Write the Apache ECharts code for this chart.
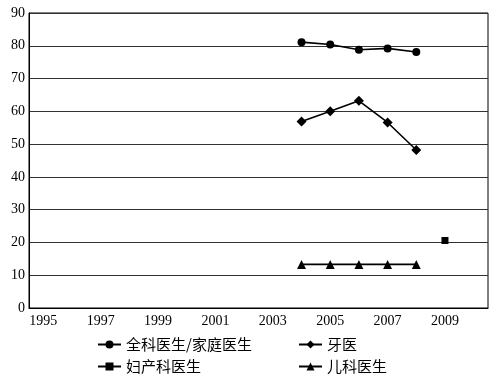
<!DOCTYPE html>
<html>
<head>
<meta charset="utf-8">
<script src="https://cdn.jsdelivr.net/npm/echarts@6/dist/echarts.min.js"></script>
<style>
  html, body { margin: 0; padding: 0; background: #fff; }
  #chart { width: 496px; height: 377px; }
</style>
</head>
<body>
<div id="chart"></div>
<script>
// 年份（类目轴）
const years = ['1995', '1996', '1997', '1998', '1999', '2000', '2001', '2002',
  '2003', '2004', '2005', '2006', '2007', '2008', '2009', '2010'];
// 各系列数值，缺失年份为 null
const generalPractice = [null, null, null, null, null, null, null, null, null, 81.1, 80.4, 78.8, 79.2, 78.1, null, null];
const dentist = [null, null, null, null, null, null, null, null, null, 56.9, 60.0, 63.2, 56.6, 48.2, null, null];
const obstetrics = [null, null, null, null, null, null, null, null, null, null, null, null, null, null, 20.6, null];
const pediatrics = [null, null, null, null, null, null, null, null, null, 13.3, 13.3, 13.3, 13.3, 13.3, null, null];
const seriesNames = ['全科医生/家庭医生', '牙医', '妇产科医生', '儿科医生'];

const chart = echarts.init(document.getElementById('chart'));

const legendFont = { fontFamily: 'Noto Sans CJK SC', fontSize: 15, color: '#000' };
const mkLegend = (name, left, top) => ({
  data: [name], left: left, top: top, itemWidth: 23, itemHeight: 10,
  itemGap: 0, padding: 0, textStyle: legendFont, selectedMode: false
});

const mkSeries = (name, data, symbol, size) => ({
  name: name,
  type: 'line',
  data: data,
  symbol: symbol,
  symbolSize: size,
  showSymbol: true,
  connectNulls: false,
  itemStyle: { color: '#000' },
  lineStyle: { color: '#000', width: 1.6 }
});

chart.setOption({
  animation: false,
  grid: {
    left: 29, right: 8, top: 13, bottom: 69,
    show: true, borderColor: '#000', borderWidth: 1
  },
  legend: [
    mkLegend(seriesNames[0], 97, 337),
    mkLegend(seriesNames[1], 298, 337),
    mkLegend(seriesNames[2], 97, 359),
    mkLegend(seriesNames[3], 298, 359)
  ],
  xAxis: {
    type: 'category',
    data: years,
    boundaryGap: true,
    axisLine: { lineStyle: { color: '#000', width: 1 } },
    axisTick: { inside: true, interval: 0, length: 5, lineStyle: { color: '#000' } },
    axisLabel: {
      interval: 1, color: '#000', fontFamily: 'Liberation Serif', fontSize: 14, margin: 6
    },
    splitLine: { show: false }
  },
  yAxis: {
    type: 'value',
    min: 0, max: 90, interval: 10,
    axisLine: { show: true, lineStyle: { color: '#000', width: 1 } },
    axisTick: { show: false },
    axisLabel: { color: '#000', fontFamily: 'Liberation Serif', fontSize: 14, margin: 4 },
    splitLine: { lineStyle: { color: '#333', width: 1 } }
  },
  series: [
    mkSeries(seriesNames[0], generalPractice, 'circle', 8),
    mkSeries(seriesNames[1], dentist, 'diamond', 10),
    mkSeries(seriesNames[2], obstetrics, 'rect', 7),
    mkSeries(seriesNames[3], pediatrics, 'triangle', 9)
  ]
});
</script>
</body>
</html>
